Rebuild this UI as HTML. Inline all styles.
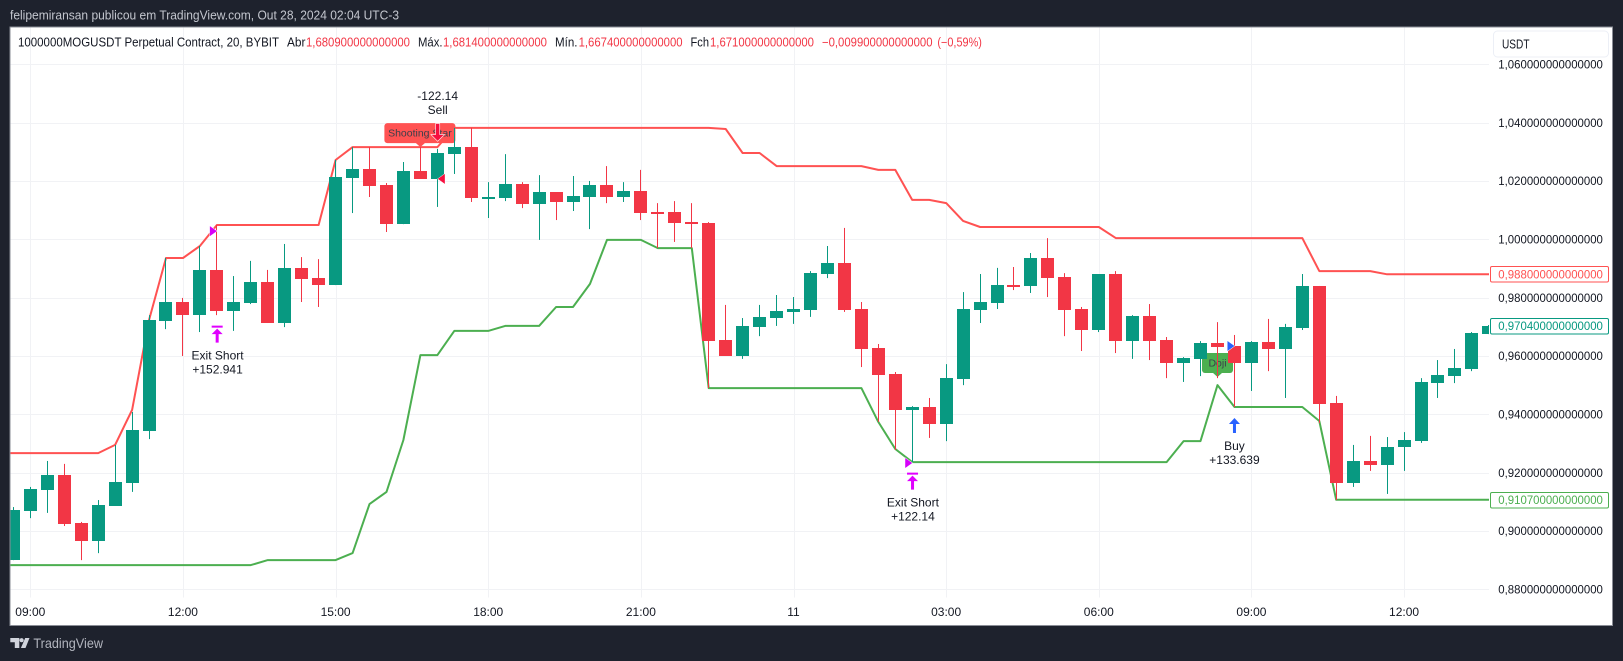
<!DOCTYPE html>
<html lang="pt">
<head>
<meta charset="utf-8">
<title>1000000MOGUSDT chart</title>
<style>
html,body{margin:0;padding:0;background:#1e222d;width:1623px;height:661px;overflow:hidden}
svg{display:block;font-family:"Liberation Sans",sans-serif}
text{white-space:pre}
</style>
</head>
<body>
<svg id="chart" xmlns="http://www.w3.org/2000/svg" width="1623" height="661" viewBox="0 0 1623 661">
  <rect x="0" y="0" width="1623" height="661" fill="#1e222d"/>
  <text x="10" y="19.5" font-size="13" fill="#c3c6ce" textLength="389" lengthAdjust="spacingAndGlyphs">felipemiransan publicou em TradingView.com, Out 28, 2024 02:04 UTC-3</text>
  <rect x="10" y="27" width="1602.5" height="598.5" fill="#ffffff" stroke="#8a8d96" stroke-width="1"/>
  <defs>
    <clipPath id="plotClip"><rect x="10.5" y="27.5" width="1478.5" height="570"/></clipPath>
  </defs>
  <g id="gridLayer"></g>
  <g id="lineLayer" clip-path="url(#plotClip)"></g>
  <g id="labelLayer"></g>
  <g id="candleLayer" clip-path="url(#plotClip)"></g>
  <g id="markerLayer"></g>
  <g id="axisLayer"></g>

  <g font-size="12.5" fill="#131722">
    <text x="18" y="46.5" textLength="261" lengthAdjust="spacingAndGlyphs">1000000MOGUSDT Perpetual Contract, 20, BYBIT</text>
    <text x="287" y="46.5" textLength="18.5" lengthAdjust="spacingAndGlyphs">Abr</text>
    <text x="306" y="46.5" fill="#f23645" textLength="104" lengthAdjust="spacingAndGlyphs">1,680900000000000</text>
    <text x="418" y="46.5" textLength="24.5" lengthAdjust="spacingAndGlyphs">Máx.</text>
    <text x="443" y="46.5" fill="#f23645" textLength="104" lengthAdjust="spacingAndGlyphs">1,681400000000000</text>
    <text x="555" y="46.5" textLength="22.5" lengthAdjust="spacingAndGlyphs">Mín.</text>
    <text x="578.6" y="46.5" fill="#f23645" textLength="104" lengthAdjust="spacingAndGlyphs">1,667400000000000</text>
    <text x="690.5" y="46.5" textLength="18.5" lengthAdjust="spacingAndGlyphs">Fch</text>
    <text x="710" y="46.5" fill="#f23645" textLength="104" lengthAdjust="spacingAndGlyphs">1,671000000000000</text>
    <text x="822" y="46.5" fill="#f23645" textLength="110.5" lengthAdjust="spacingAndGlyphs">−0,009900000000000</text>
    <text x="937.4" y="46.5" fill="#f23645" textLength="44.5" lengthAdjust="spacingAndGlyphs">(−0,59%)</text>
  </g>

  <g>
    <rect x="1491" y="28" width="120" height="32" fill="#ffffff"/>
    <rect x="1493.5" y="31" width="115" height="26" rx="4" fill="#ffffff" stroke="#eceff6" stroke-width="1"/>
    <text x="1502" y="48.5" font-size="12.5" fill="#131722" textLength="27.5" lengthAdjust="spacingAndGlyphs">USDT</text>
  </g>

  <g>
    <g fill="#d1d4dc">
      <path d="M10.3 638h9v10h-4.5v-5.8h-4.5z"/>
      <circle cx="21.6" cy="640.2" r="2.1"/>
      <path d="M25.2 638h4.3l-4 10h-4.6z"/>
    </g>
    <text x="33.4" y="648" font-size="14" fill="#b2b5be" textLength="69.6" lengthAdjust="spacingAndGlyphs">TradingView</text>
  </g>

<script>
var opens  = [0.8900,0.9068,0.9140,0.9192,0.9027,0.8966,0.9086,0.9164,0.9343,0.9720,0.9785,0.9740,0.9895,0.9754,0.9782,0.9854,0.9713,0.9902,0.9867,0.9843,1.0210,1.0241,1.0186,1.0052,1.0234,1.0207,1.0292,1.0316,1.0142,1.0142,1.0190,1.0121,1.0162,1.0128,1.0145,1.0186,1.0145,1.0166,1.0094,1.0094,1.0059,1.0056,0.9655,0.9600,0.9699,0.9730,0.9751,0.9758,0.9881,0.9919,0.9761,0.9627,0.9538,0.9415,0.9425,0.9367,0.9521,0.9758,0.9782,0.9843,0.9840,0.9936,0.9871,0.9761,0.9689,0.9881,0.9651,0.9737,0.9655,0.9576,0.9590,0.9644,0.9634,0.9576,0.9648,0.9624,0.9696,0.9840,0.9439,0.9164,0.9240,0.9226,0.9288,0.9308,0.9507,0.9531,0.9555,0.9675];
var highs  = [0.9082,0.9151,0.9240,0.9230,0.9031,0.9106,0.9295,0.9408,0.9740,0.9936,0.9799,0.9977,1.0049,0.9874,0.9926,0.9895,0.9984,0.9939,0.9932,1.0272,1.0316,1.0316,1.0193,1.0265,1.0316,1.0310,1.0382,1.0382,1.0196,1.0292,1.0196,1.0220,1.0162,1.0217,1.0200,1.0251,1.0196,1.0238,1.0124,1.0131,1.0124,1.0059,0.9775,0.9730,0.9775,0.9809,0.9802,0.9891,0.9977,1.0039,0.9785,0.9641,0.9545,0.9428,0.9456,0.9572,0.9819,0.9881,0.9902,0.9905,0.9953,1.0004,0.9884,0.9768,0.9881,0.9891,0.9740,0.9778,0.9665,0.9596,0.9651,0.9716,0.9672,0.9651,0.9727,0.9710,0.9881,0.9840,0.9463,0.9295,0.9326,0.9322,0.9339,0.9524,0.9586,0.9624,0.9682,0.9706];
var lows   = [0.8900,0.9044,0.9062,0.9017,0.8900,0.8924,0.9086,0.9134,0.9315,0.9692,0.9600,0.9682,0.9740,0.9686,0.9778,0.9713,0.9699,0.9785,0.9768,0.9843,1.0090,1.0145,1.0025,1.0052,1.0207,1.0111,1.0224,1.0128,1.0073,1.0131,1.0107,0.9998,1.0066,1.0097,1.0035,1.0124,1.0128,1.0066,0.9970,0.9991,0.9970,0.9490,0.9600,0.9590,0.9668,0.9703,0.9710,0.9734,0.9867,0.9751,0.9562,0.9374,0.9278,0.9236,0.9319,0.9308,0.9500,0.9713,0.9761,0.9826,0.9816,0.9802,0.9668,0.9617,0.9682,0.9610,0.9590,0.9586,0.9524,0.9511,0.9531,0.9524,0.9425,0.9480,0.9548,0.9456,0.9689,0.9370,0.9106,0.9151,0.9206,0.9127,0.9206,0.9302,0.9456,0.9507,0.9548,0.9675];
var closes = [0.9072,0.9144,0.9192,0.9024,0.8966,0.9089,0.9168,0.9346,0.9723,0.9785,0.9740,0.9895,0.9754,0.9785,0.9854,0.9713,0.9902,0.9864,0.9843,1.0214,1.0241,1.0183,1.0052,1.0234,1.0207,1.0296,1.0316,1.0142,1.0145,1.0190,1.0121,1.0162,1.0128,1.0148,1.0186,1.0145,1.0166,1.0090,1.0090,1.0056,1.0052,0.9651,0.9600,0.9703,0.9734,0.9754,0.9761,0.9884,0.9919,0.9758,0.9624,0.9535,0.9415,0.9425,0.9367,0.9524,0.9761,0.9785,0.9843,0.9840,0.9936,0.9867,0.9758,0.9689,0.9881,0.9651,0.9737,0.9651,0.9576,0.9593,0.9644,0.9631,0.9576,0.9648,0.9624,0.9699,0.9840,0.9435,0.9164,0.9240,0.9226,0.9288,0.9312,0.9511,0.9535,0.9559,0.9679,0.9704];

var upperBand = [0.9267,0.9267,0.9267,0.9267,0.9267,0.9267,0.9295,0.9415,0.9723,0.9936,0.9936,0.9977,1.0049,1.0049,1.0049,1.0049,1.0049,1.0049,1.0049,1.0272,1.0316,1.0316,1.0316,1.0316,1.0316,1.0316,1.0382,1.0382,1.0382,1.0382,1.0382,1.0382,1.0382,1.0382,1.0382,1.0382,1.0382,1.0382,1.0382,1.0382,1.0382,1.0382,1.0378,1.0296,1.0296,1.0251,1.0251,1.0251,1.0251,1.0251,1.0251,1.0238,1.0238,1.0135,1.0135,1.0124,1.0063,1.0042,1.0042,1.0042,1.0042,1.0042,1.0042,1.0042,1.0042,1.0004,1.0004,1.0004,1.0004,1.0004,1.0004,1.0004,1.0004,1.0004,1.0004,1.0004,1.0004,0.9891,0.9891,0.9891,0.9891,0.9880,0.9880,0.9880,0.9880,0.9880,0.9880,0.9880];
var lowerBand = [0.8883,0.8883,0.8883,0.8883,0.8883,0.8883,0.8883,0.8883,0.8883,0.8883,0.8883,0.8883,0.8883,0.8883,0.8883,0.8900,0.8900,0.8900,0.8900,0.8900,0.8924,0.9092,0.9134,0.9312,0.9603,0.9603,0.9686,0.9686,0.9686,0.9703,0.9703,0.9703,0.9768,0.9768,0.9847,0.9998,0.9998,0.9998,0.9970,0.9970,0.9970,0.9490,0.9490,0.9490,0.9490,0.9490,0.9490,0.9490,0.9490,0.9490,0.9490,0.9374,0.9281,0.9236,0.9236,0.9236,0.9236,0.9236,0.9236,0.9236,0.9236,0.9236,0.9236,0.9236,0.9236,0.9236,0.9236,0.9236,0.9236,0.9308,0.9308,0.9500,0.9425,0.9425,0.9425,0.9425,0.9425,0.9377,0.9107,0.9107,0.9107,0.9107,0.9107,0.9107,0.9107,0.9107,0.9107,0.9107];

var priceTicks = [1.06,1.04,1.02,1.00,0.98,0.96,0.94,0.92,0.90,0.88];
var priceTickLabels = ["1,060000000000000","1,040000000000000","1,020000000000000","1,000000000000000","0,980000000000000","0,960000000000000","0,940000000000000","0,920000000000000","0,900000000000000","0,880000000000000"];
var timeTickBars = [1,10,19,28,37,46,55,64,73,82];
var timeTickLabels = ["09:00","12:00","15:00","18:00","21:00","11","03:00","06:00","09:00","12:00"];

var lastUpper = 0.9880;
var lastUpperLabel = "0,988000000000000";
var lastClose = 0.9704;
var lastCloseLabel = "0,970400000000000";
var lastLower = 0.9107;
var lastLowerLabel = "0,910700000000000";

var exitBars = [12,53];
var exitLines1 = ["Exit Short","Exit Short"];
var exitLines2 = ["+152.941","+122.14"];
var buyBar = 72;
var buyLine2 = "+133.639";
var sellBar = 25;
var sellLine1 = "-122.14";
var entryBars = [12,25,53,72];
var entryPrices = [1.0028,1.0207,0.9233,0.9634];

var GREEN = '#089981', RED = '#f23645', NS = 'http://www.w3.org/2000/svg';
function xScale(i){ return 13.35 + 16.96 * i; }
function yScale(p){ return 239.3 + (1 - p) * 2916.7; }
function make(tag, attrs, parent){
  var n = document.createElementNS(NS, tag);
  for (var k in attrs) n.setAttribute(k, attrs[k]);
  parent.appendChild(n);
  return n;
}
var gridLayer = document.getElementById('gridLayer');
var lineLayer = document.getElementById('lineLayer');
var labelLayer = document.getElementById('labelLayer');
var candleLayer = document.getElementById('candleLayer');
var markerLayer = document.getElementById('markerLayer');
var axisLayer = document.getElementById('axisLayer');

priceTicks.forEach(function(p, i){
  var y = Math.round(yScale(p)) + 0.5;
  var l = make('line', {x1:10.5, x2:1489, y1:y, y2:y, stroke:'#f1f2f5', 'stroke-width':1}, gridLayer);
  
  
  var t = make('text', {x:1498.3, y:yScale(p)+4.2, 'font-size':12, fill:'#131722', textLength:104.6, lengthAdjust:'spacingAndGlyphs'}, axisLayer);
  
  
  t.textContent = priceTickLabels[i];
});
timeTickBars.forEach(function(b, i){
  var x = Math.round(xScale(b)) + 0.5;
  var l = make('line', {x1:x, x2:x, y1:27.5, y2:597.5, stroke:'#f1f2f5', 'stroke-width':1}, gridLayer);
  
  
  var t = make('text', {x:xScale(b), y:615.8, 'font-size':12, fill:'#131722', 'text-anchor':'middle'}, axisLayer);
  
  
  t.textContent = timeTickLabels[i];
});

function drawBand(values, color, name){
  var pts = values.map(function(v, i){ return xScale(i).toFixed(1) + ',' + yScale(v).toFixed(1); });
  pts.unshift('10,' + yScale(values[0]).toFixed(1));
  pts.push('1489,' + yScale(values[values.length-1]).toFixed(1));
  var l = make('polyline', {points:pts.join(' '), fill:'none', stroke:color, 'stroke-width':2, 'stroke-linejoin':'round'}, lineLayer);
  
  
}
drawBand(upperBand, '#ff5252', 'upper-band-line');
drawBand(lowerBand, '#4caf50', 'lower-band-line');

function patternLabel(bar, tipPrice, w, h, color, text, name, xOff){
  var tx = xScale(bar), ty = yScale(tipPrice);
  var x0 = tx - xOff, y1 = ty - 4, y0 = y1 - h;
  var g = make('g', {}, labelLayer);
  
  
  make('rect', {x:x0, y:y0, width:w, height:h, rx:3, fill:color}, g);
  make('path', {d:'M'+(tx-5)+' '+(y1-0.5)+'L'+tx+' '+ty+'L'+(tx+5)+' '+(y1-0.5)+'Z', fill:color}, g);
  var t = make('text', {x:x0+w/2, y:y0+h/2+3.6, 'font-size':10.5, fill:'#3b3f4a', 'text-anchor':'middle'}, g);
  t.textContent = text;
}
patternLabel(24, highs[24], 71, 20, '#ff5252', 'Shooting Star', 'shooting-star-label', 36);
patternLabel(71, lows[71]+0.0004, 31, 20, '#4caf50', 'Doji', 'doji-label', 15.5);

opens.forEach(function(o, i){
  var c = closes[i], col = c >= o ? GREEN : RED;
  var cx = Math.round(xScale(i) - 0.5);
  var top = Math.round(yScale(Math.max(o, c))), bot = Math.round(yScale(Math.min(o, c)));
  if (bot - top < 2) bot = top + 2;
  var g = make('g', {}, candleLayer);
  
  
  make('rect', {x:cx, y:yScale(highs[i]), width:1, height:yScale(lows[i])-yScale(highs[i]), fill:col}, g);
  make('rect', {x:cx-6, y:top, width:13, height:bot-top, fill:col}, g);
});

function markerText(x, y, str, name){
  var t = make('text', {x:x, y:y, 'font-size':12, fill:'#131722', 'text-anchor':'middle'}, markerLayer);
  
  
  t.textContent = str;
}
exitBars.forEach(function(b, i){
  var x = xScale(b) + 0.3, y0 = yScale(lows[b]) + 10.5;
  var g = make('g', {fill:'#e000ff'}, markerLayer);
  
  
  make('rect', {x:x-5.5, y:y0, width:11, height:2}, g);
  make('path', {d:'M'+x+' '+(y0+3)+'l5.5 5.5h-4v8.5h-3v-8.5h-4z'}, g);
  markerText(x+0.4, y0+34, exitLines1[i], 'exit-short-label');
  markerText(x+0.4, y0+48, exitLines2[i], 'exit-short-profit');
});
(function(){
  var x = xScale(buyBar), y0 = yScale(lows[buyBar]) + 11;
  var a = make('path', {d:'M'+x+' '+y0+'l5.5 6h-4v9h-3v-9h-4z', fill:'#2962ff'}, markerLayer);
  
  
  markerText(x, y0+32, 'Buy', 'buy-label');
  markerText(x, y0+46, buyLine2, 'buy-profit');
})();
(function(){
  var x = xScale(sellBar) + 0.3, yb = yScale(highs[sellBar]) - 8;
  var a = make('path', {d:'M'+x+' '+yb+'l-6 -6h4.2v-11h3.6v11h4.2z', fill:'#f7103f', stroke:'#ffffff', 'stroke-width':1.2, 'paint-order':'stroke'}, markerLayer);
  
  
  markerText(x, 100, sellLine1, 'sell-profit');
  markerText(x, 114, 'Sell', 'sell-label');
})();
var entryColors = ['#d500f9','#f7103f','#d500f9','#2962ff'];
var entryDirs = [-1,1,-1,-1];
entryBars.forEach(function(b, i){
  var y = yScale(entryPrices[i]), d = entryDirs[i], tip = xScale(b) + (d > 0 ? 0.5 : 0);
  var p = make('path', {d:'M'+tip+' '+y+'L'+(tip+7*d)+' '+(y-5)+'V'+(y+5)+'Z', fill:entryColors[i], stroke:'#ffffff', 'stroke-width':0.8, 'paint-order':'stroke'}, markerLayer);
  
  
});

function priceBadge(p, str, color, name){
  var y = yScale(p);
  var g = make('g', {}, axisLayer);
  
  
  make('rect', {x:1490.5, y:Math.round(y-8)+0.5, width:118, height:15.5, rx:1.5, fill:'#ffffff', stroke:color, 'stroke-width':1}, g);
  var t = make('text', {x:1498.3, y:y+4.2, 'font-size':12, fill:color, textLength:104.6, lengthAdjust:'spacingAndGlyphs'}, g);
  t.textContent = str;
}
priceBadge(lastUpper, lastUpperLabel, '#ff5252', 'upper-band-price-badge');
priceBadge(lastClose, lastCloseLabel, GREEN, 'last-price-badge');
priceBadge(lastLower, lastLowerLabel, '#4caf50', 'lower-band-price-badge');
</script>
</svg>
</body>
</html>
